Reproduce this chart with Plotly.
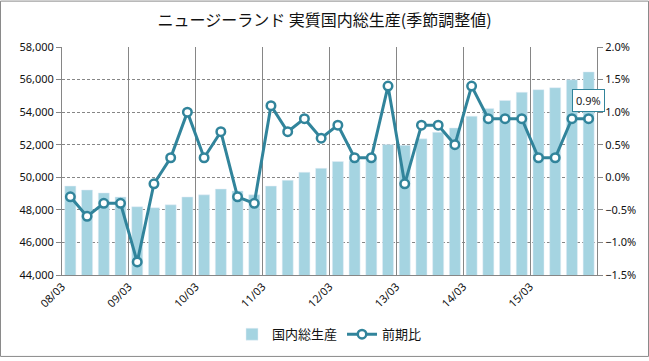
import plotly.graph_objects as go

categories = [f"{y:02d}/{m:02d}" for y in range(8, 16) for m in (3, 6, 9, 12)]
gdp = [49460, 49220, 49040, 48790, 48190, 48130, 48310, 48790,
       48920, 49280, 49160, 48920, 49460, 49820, 50310, 50550,
       50970, 51010, 51180, 52020, 51960, 52360, 52760, 53030,
       53750, 54230, 54720, 55220, 55380, 55500, 55990, 56470]
pct = [-0.3, -0.6, -0.4, -0.4, -1.3, -0.1, 0.3, 1.0,
       0.3, 0.7, -0.3, -0.4, 1.1, 0.7, 0.9, 0.6,
       0.8, 0.3, 0.3, 1.4, -0.1, 0.8, 0.8, 0.5,
       1.4, 0.9, 0.9, 0.9, 0.3, 0.3, 0.9, 0.9]
year_labels = ["08/03", "09/03", "10/03", "11/03", "12/03", "13/03", "14/03", "15/03"]

BAR = "#A5D4E1"
LINE = "#31849B"
GRID = "#868686"

x = list(range(len(categories)))
tick_pos = [categories.index(lbl) - 0.5 for lbl in year_labels]

fig = go.Figure()
fig.add_trace(go.Bar(x=x, y=gdp, name="国内総生産", marker_color=BAR,
                     customdata=categories, yaxis="y"))
fig.add_trace(go.Scatter(x=x, y=pct, name="前期比", yaxis="y2", mode="lines+markers",
                         line=dict(color=LINE, width=3),
                         marker=dict(size=8.5, color="white", line=dict(color=LINE, width=2.5))))

W, H = 649, 361
L, R, T, B = 62, 52, 47, 83
pw, ph = W - L - R, H - T - B

fig.add_annotation(x=x[-1], y=pct[-1], xref="x", yref="y2", text=f"{pct[-1]:.1f}%",
                   showarrow=False, yshift=18, bgcolor="white", bordercolor=LINE,
                   borderwidth=1, borderpad=3, font=dict(size=11, color="#222"))

fig.add_shape(type="rect", xref="paper", yref="paper",
              x0=(-L + 0.5) / pw, x1=(pw + R - 0.5) / pw,
              y0=(-B + 0.5) / ph, y1=(ph + T - 0.5) / ph,
              line=dict(color="#8a8a8a", width=1), layer="below")

fig.update_layout(
    width=W, height=H,
    margin=dict(l=L, r=R, t=T, b=B),
    plot_bgcolor="white", paper_bgcolor="white",
    font=dict(family="Noto Sans, Noto Sans CJK JP", size=11, color="#111"),
    title=dict(text="ニュージーランド 実質国内総生産(季節調整値)", x=0.5, xanchor="center",
               y=1 - 20 / H, yanchor="middle",
               font=dict(family="Noto Sans CJK JP", size=16, color="#111")),
    bargap=0.34,
    showlegend=True,
    legend=dict(orientation="h", x=0.5, xanchor="center", y=-0.26, yanchor="middle",
                font=dict(family="Noto Sans CJK JP", size=13, color="#111")),
    xaxis=dict(range=[-0.5, len(categories) - 0.5], tickmode="array", tickvals=tick_pos,
               ticktext=year_labels, tickangle=-45, showgrid=True, gridcolor=GRID,
               gridwidth=1, showline=True, linecolor=GRID, ticks="", zeroline=False),
    yaxis=dict(range=[44000, 58000], dtick=2000, tickformat=",", showgrid=True,
               gridcolor=GRID, griddash="3px,2px", showline=True, linecolor=GRID,
               ticks="outside", ticklen=5, tickcolor=GRID, zeroline=False),
    yaxis2=dict(range=[-1.5, 2.0], dtick=0.5, tickformat=".1f", ticksuffix="%",
                overlaying="y", side="right", showgrid=False, showline=True,
                linecolor=GRID, ticks="outside", ticklen=5, tickcolor=GRID, zeroline=False),
)

fig.write_html("out.html", config={"displayModeBar": False},
               post_script="document.body.style.margin='0';document.body.style.overflow='hidden';")
